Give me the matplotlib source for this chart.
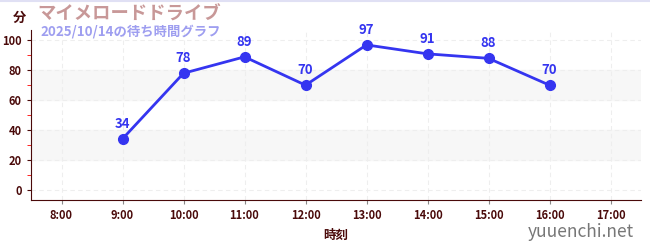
import matplotlib
matplotlib.use("Agg")
import matplotlib.pyplot as plt
from matplotlib.ticker import MultipleLocator

plt.rcParams["font.family"] = ["Noto Sans CJK JP", "DejaVu Sans"]

hours = [9, 10, 11, 12, 13, 14, 15, 16]
waits = [34, 78, 89, 70, 97, 91, 88, 70]
xticks = [8, 9, 10, 11, 12, 13, 14, 15, 16, 17]
xlabels = [f"{h}:00" for h in xticks]
bands = [(20, 40), (60, 80)]

tick_color = "#4a0a0a"
line_color = "#3535f0"

fig = plt.figure(figsize=(6.5, 2.5), dpi=100)
ax = fig.add_axes([31 / 650, 50 / 250, 610 / 650, 170 / 250])

for lo, hi in bands:
    ax.axhspan(lo, hi, color="#f7f7f7", zorder=0)

ax.plot(hours, waits, color=line_color, lw=2, marker="o", ms=7, zorder=3)
for h, w in zip(hours, waits):
    ax.annotate(str(w), (h, w), xytext=(0, 6), textcoords="offset points",
                ha="center", va="bottom", color=line_color, fontsize=9.5,
                fontweight="bold")

ax.set_xlim(7.5, 17.5)
ax.set_ylim(-7, 107)
ax.set_xticks(xticks)
ax.set_xticklabels(xlabels)
ax.set_yticks(range(0, 101, 20))
ax.yaxis.set_minor_locator(MultipleLocator(10))
ax.tick_params(axis="y", which="minor", length=3, color="red")
ax.tick_params(axis="y", which="major", length=3, color=tick_color,
               labelcolor=tick_color, labelsize=8)
ax.tick_params(axis="x", length=3, color="#888888", labelcolor=tick_color,
               labelsize=8)
for lab in ax.get_xticklabels() + ax.get_yticklabels():
    lab.set_fontweight("bold")

ax.grid(True, color="#eeeeee", ls=(0, (4, 3)), lw=0.8, zorder=1)
ax.set_axisbelow(True)
for s in ["top", "right"]:
    ax.spines[s].set_visible(False)
ax.spines["left"].set_color(tick_color)
ax.spines["bottom"].set_color(tick_color)

ax.set_xlabel("時刻", color=tick_color, fontsize=9, fontweight="bold", labelpad=5)

fig.text(13 / 650, 1 - 18 / 250, "分", color=tick_color, fontsize=9.5,
         fontweight="bold", va="center")
fig.text(37 / 650, 1 - 14 / 250, "マイメロードドライブ", color="#c89898",
         fontsize=13.2, fontweight="bold", va="center")
fig.text(40 / 650, 1 - 32 / 250, "2025/10/14の待ち時間グラフ", color="#9e9ef0",
         fontsize=9.6, fontweight="bold", va="center")
fig.text(634 / 650, 1 - 232 / 250, "yuuenchi.net", color="#777777",
         fontsize=12.5, ha="right", va="center")

fig.add_artist(plt.Line2D([0, 1], [0.998, 0.998], color="#e0e0f4", lw=1.5))

fig.savefig("out.png", dpi=100)
